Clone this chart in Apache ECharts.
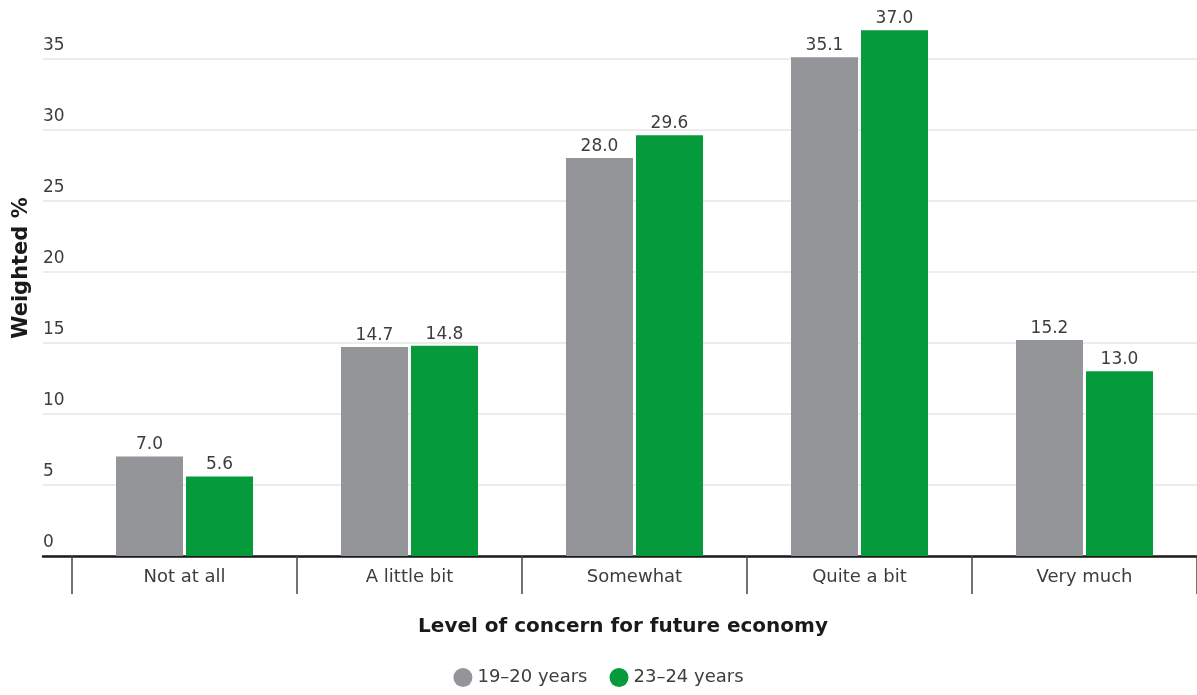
<!DOCTYPE html>
<html>
<head>
<meta charset="utf-8">
<script src="https://cdn.jsdelivr.net/npm/echarts@6/dist/echarts.min.js"></script>
<style>
  html, body { margin: 0; padding: 0; background: #ffffff; }
  #chart { width: 1197px; height: 695px; }
</style>
</head>
<body>
<div id="chart"></div>
<script>
// Concern for the future economy, by age group (weighted %)
const categories = ['Not at all', 'A little bit', 'Somewhat', 'Quite a bit', 'Very much'];
const seriesNames = ['19\u201320 years', '23\u201324 years'];
const age19to20 = [7.0, 14.7, 28.0, 35.1, 15.2];
const age23to24 = [5.6, 14.8, 29.6, 37.0, 13.0];
const yTicks = [0, 5, 10, 15, 20, 25, 30, 35];

const FONT = '"DejaVu Sans", "Noto Sans", sans-serif';
const TEXT = '#3d3d3d';
const GRAY = '#939598';
const GREEN = '#059a3c';

const Y_MIN = 0, Y_MAX = 38, Y_STEP = 5;

// one colour per split line; the line at the axis maximum stays hidden
const splitColors = [];
for (let v = Y_MIN; v <= Y_MAX; v += Y_STEP) splitColors.push('#e6e6e6');
splitColors.push('rgba(0,0,0,0)');

const chart = echarts.init(document.getElementById('chart'), null, { renderer: 'canvas' });

const valueLabel = {
  show: true,
  position: 'top',
  distance: 3,
  fontFamily: FONT,
  fontSize: 17,
  color: TEXT,
  formatter: p => p.value.toFixed(1)
};

chart.setOption({
  animation: false,
  textStyle: { fontFamily: FONT },
  grid: [
    // frame grid: horizontal rules, y labels and the baseline
    { left: 43, right: 0, top: 16, bottom: 139, containLabel: false, outerBoundsMode: 'none' },
    // bar grid: categories separated by long ticks
    { left: 72, right: 0, top: 16, bottom: 139, containLabel: false, outerBoundsMode: 'none' }
  ],
  legend: {
    bottom: 3,
    left: 'center',
    icon: 'circle',
    itemWidth: 19,
    itemHeight: 19,
    itemGap: 22,
    itemStyle: { borderWidth: 0 },
    textStyle: { fontFamily: FONT, fontSize: 18, color: TEXT },
    data: seriesNames
  },
  xAxis: [
    {
      gridIndex: 0,
      type: 'category',
      data: [''],
      axisLine: { show: true, lineStyle: { color: '#1a1a1a', width: 2.5 } },
      axisTick: { show: false },
      axisLabel: { show: false },
      splitLine: { show: false }
    },
    {
      gridIndex: 1,
      type: 'category',
      data: categories,
      axisLine: { show: false },
      axisTick: { show: true, length: 38, lineStyle: { color: '#444', width: 1.5 } },
      axisLabel: { margin: 12, fontFamily: FONT, fontSize: 18, color: TEXT },
      name: 'Level of concern for future economy',
      nameLocation: 'middle',
      nameGap: 61,
      nameTextStyle: { fontFamily: FONT, fontSize: 20, fontWeight: 'bold', color: '#1a1a1a', padding: [0, 23, 0, 0] }
    }
  ],
  yAxis: [
    {
      gridIndex: 0,
      type: 'value',
      min: Y_MIN,
      max: Y_MAX,
      interval: Y_STEP,
      axisLine: { show: false },
      axisTick: { show: false },
      splitLine: { show: true, lineStyle: { color: splitColors, width: 1.5 } },
      axisLabel: {
        inside: true,
        margin: 0,
        align: 'left',
        verticalAlign: 'bottom',
        padding: [0, 0, 5, 0],
        fontFamily: FONT,
        fontSize: 17,
        color: TEXT,
        formatter: v => (yTicks.indexOf(v) >= 0 ? String(v) : '')
      },
      name: 'Weighted %',
      nameLocation: 'middle',
      nameGap: 9,
      nameRotate: 90,
      nameTextStyle: { fontFamily: FONT, fontSize: 21, fontWeight: 'bold', color: '#1a1a1a', padding: [0, 0, 0, 36] }
    },
    {
      gridIndex: 1,
      type: 'value',
      min: Y_MIN,
      max: Y_MAX,
      interval: Y_STEP,
      show: false,
      splitLine: { show: false }
    }
  ],
  series: [
    {
      name: seriesNames[0],
      type: 'bar',
      xAxisIndex: 1,
      yAxisIndex: 1,
      data: age19to20,
      barWidth: 67,
      barGap: '4.5%',
      itemStyle: { color: GRAY },
      label: valueLabel
    },
    {
      name: seriesNames[1],
      type: 'bar',
      xAxisIndex: 1,
      yAxisIndex: 1,
      data: age23to24,
      barWidth: 67,
      barGap: '4.5%',
      itemStyle: { color: GREEN },
      label: valueLabel
    }
  ]
});
</script>
</body>
</html>
